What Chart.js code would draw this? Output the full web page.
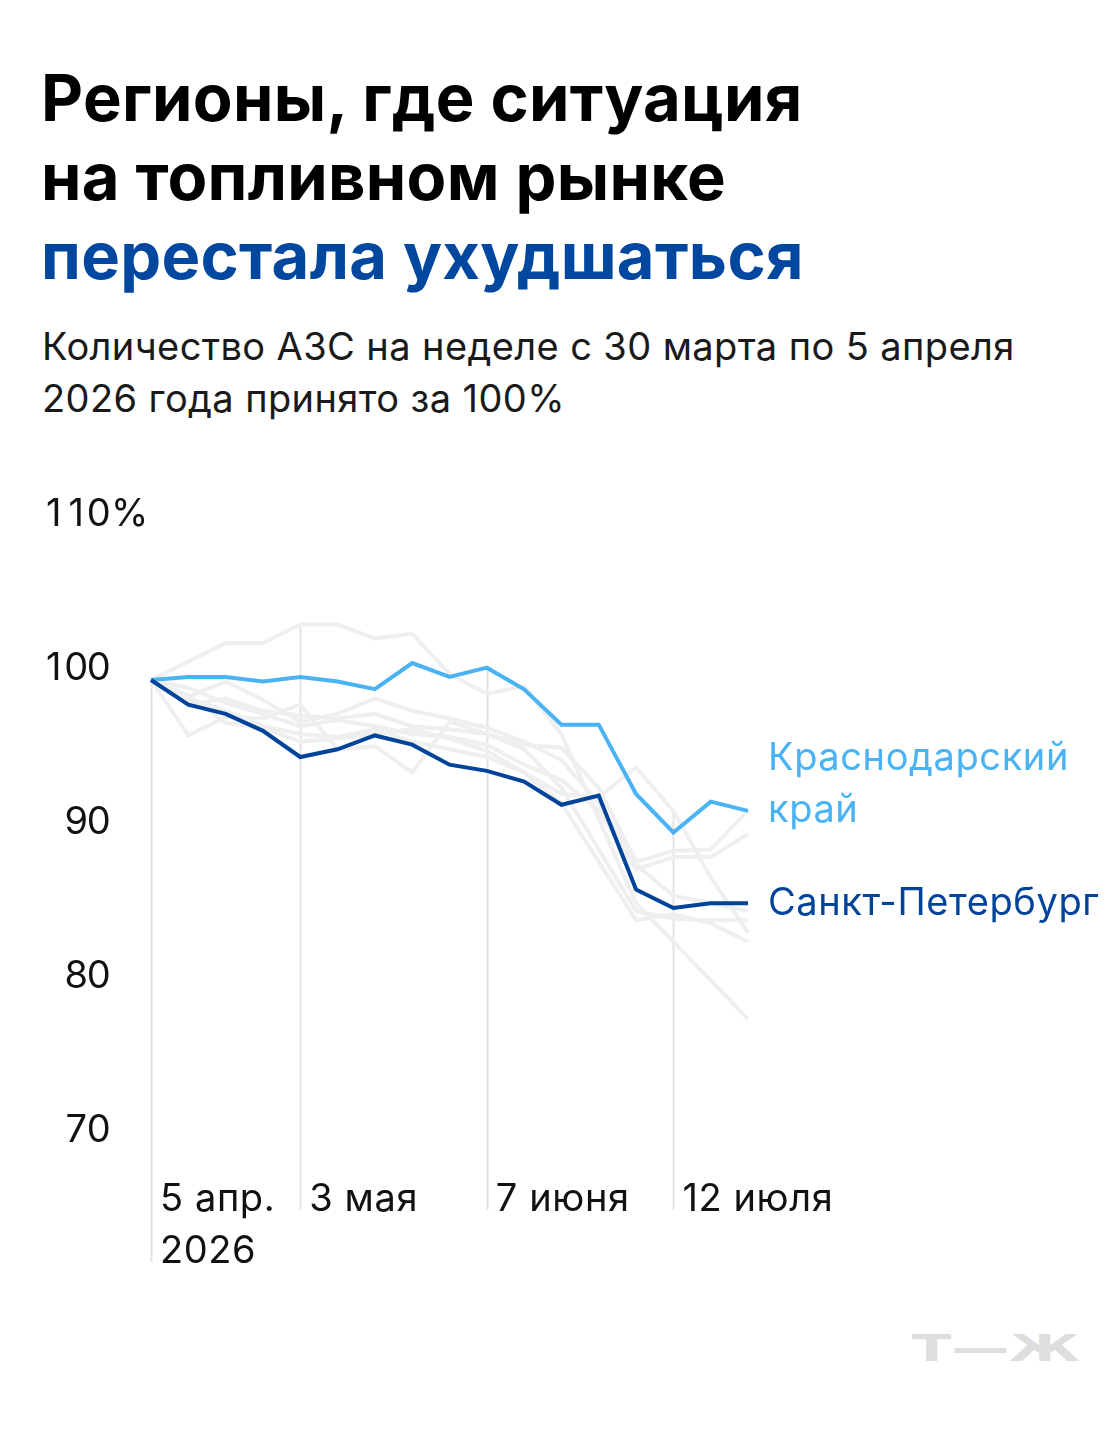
<!DOCTYPE html>
<html lang="ru">
<head>
<meta charset="utf-8">
<script src="https://cdn.jsdelivr.net/npm/chart.js@4.4.1/dist/chart.umd.min.js"></script>
<style>
  html, body { margin: 0; padding: 0; background: #fff; }
  body { width: 1120px; height: 1444px; position: relative; overflow: hidden; font-family: Inter, "Noto Sans", sans-serif; }
  .title { position: absolute; left: 41px; top: 58px; font-size: 65px; line-height: 79px; font-weight: 700; color: #000; letter-spacing: 0.3px; }
  .title .accent { color: #0047a0; }
  .subtitle { position: absolute; left: 42px; top: 320px; font-size: 38px; line-height: 52px; color: #1a1a1a; letter-spacing: 0.4px; }
  #wrap { position: absolute; left: 0; top: 440px; width: 1120px; height: 860px; }
  .logo { position: absolute; left: 912px; top: 1326px; font-family: "DejaVu Sans", sans-serif; font-weight: 700; font-size: 38px; color: #dedede; transform: scaleX(1.52); transform-origin: left top; }
</style>
</head>
<body>
<div class="title">Регионы, где ситуация<br>на топливном рынке<br><span class="accent">перестала ухудшаться</span></div>
<div class="subtitle">Количество АЗС на неделе с 30 марта по 5 апреля<br>2026 года принято за 100%</div>
<div id="wrap"><canvas id="myChart"></canvas></div>
<div class="logo">Т—Ж</div>
<script>
// weeks, starting with the week ending 5 April 2026
const weeks = ['5 апр.', '12 апр.', '19 апр.', '26 апр.', '3 мая', '10 мая', '17 мая', '24 мая', '31 мая',
  '7 июня', '14 июня', '21 июня', '28 июня', '5 июля', '12 июля', '19 июля', '26 июля'];

// which weeks get a label under the axis
const tickIndex = [0, 4, 9, 14];
const tickText = [['5 апр.', '2026'], ['3 мая'], ['7 июня'], ['12 июля']];

const yTicks = [70, 80, 90, 100, 110];

// highlighted regions, % of the base week
const krasnodar = [100, 100.2, 100.2, 99.9, 100.2, 99.9, 99.4, 101.1, 100.2, 100.8, 99.4, 97.1, 97.1, 92.6, 90.1, 92.1, 91.5];
const spb = [100, 98.4, 97.8, 96.7, 95.0, 95.5, 96.4, 95.8, 94.5, 94.1, 93.4, 91.9, 92.5, 86.4, 85.2, 85.5, 85.5];

// other regions (grey background lines)
const otherA = [100, 101.2, 102.4, 102.4, 103.6, 103.6, 102.7, 103.0, 100.4, 99.1, 99.6, 96.5, 91.0, 85.5, 83.0, 80.5, 78.0];
const otherB = [100, 96.4, 97.6, 97.5, 98.4, 95.5, 95.7, 94.0, 97.3, 96.5, 95.5, 93.0, 89.0, 85.0, 84.5, 84.4, 84.4];
const otherC = [100, 98.8, 98.0, 97.0, 96.5, 96.3, 96.8, 96.0, 95.5, 95.0, 94.0, 92.6, 92.4, 94.3, 91.5, 87.2, 83.6];
const otherD = [100, 99.5, 98.5, 97.8, 97.0, 97.4, 97.0, 96.5, 96.3, 95.8, 94.5, 93.5, 91.5, 87.7, 88.5, 88.5, 90.0];
const otherE = [100, 98.4, 98.8, 98.0, 97.7, 97.5, 97.8, 97.0, 96.8, 96.5, 95.8, 95.6, 93.0, 88.2, 88.9, 89.0, 91.5];
const otherF = [100, 98.9, 99.9, 98.7, 97.3, 97.8, 98.8, 98.0, 97.5, 96.9, 96.0, 94.8, 92.0, 88.0, 86.0, 85.5, 85.0];
const otherG = [100, 99.0, 97.2, 96.9, 96.0, 96.2, 96.5, 96.8, 96.2, 95.4, 94.0, 92.0, 88.2, 84.4, 84.8, 84.2, 83.0];
const others = [otherA, otherB, otherC, otherD, otherE, otherF, otherG];

const COLORS = { spb: '#00439a', krasnodar: '#4ab3f4', other: '#efefef', grid: '#e3e3e3', text: '#111' };
const FONT = '38px Inter, "Noto Sans", sans-serif';
const LINE_H = 52;
const DIGIT_W = 22.5; // digits on the y axis are tabular

// draw a number right-aligned at x with every digit in a fixed-width cell
function drawTabular(ctx, str, right, py) {
  ctx.textAlign = 'center';
  for (let i = 0; i < str.length; i++) {
    const cx = right - (str.length - i - 0.5) * DIGIT_W;
    ctx.fillText(str[i], cx, py);
  }
}

const overlay = {
  id: 'overlay',
  beforeDatasetsDraw(chart) {
    const ctx = chart.ctx, x = chart.scales.x, y = chart.scales.y;
    const base = chart.chartArea.bottom + 68;
    ctx.save();
    ctx.strokeStyle = COLORS.grid;
    ctx.lineWidth = 2;
    tickIndex.forEach((idx, k) => {
      const top = Math.max(...chart.data.datasets.map(d => d.data[idx]));
      const px = Math.round(x.getPixelForValue(idx)) + 0.5;
      ctx.beginPath();
      ctx.moveTo(px, y.getPixelForValue(top));
      ctx.lineTo(px, base + (tickText[k].length - 1) * LINE_H);
      ctx.stroke();
    });
    ctx.restore();
  },
  afterDatasetsDraw(chart) {
    const ctx = chart.ctx, x = chart.scales.x, y = chart.scales.y;
    ctx.save();
    ctx.font = FONT;
    ctx.fillStyle = COLORS.text;
    ctx.textBaseline = 'alphabetic';

    // y labels sit on top of their value
    yTicks.forEach(v => {
      const py = y.getPixelForValue(v);
      drawTabular(ctx, String(v), 110, py);
      if (v === yTicks[yTicks.length - 1]) {
        ctx.textAlign = 'left';
        ctx.fillText('%', 111, py);
      }
    });

    ctx.letterSpacing = '0.6px';

    // x labels
    const base = chart.chartArea.bottom + 69;
    ctx.textAlign = 'left';
    tickIndex.forEach((idx, k) => {
      const px = x.getPixelForValue(idx) + 9;
      tickText[k].forEach((t, j) => ctx.fillText(t, px, base + j * LINE_H));
    });

    // labels at the end of the highlighted lines
    const last = weeks.length - 1;
    const lx = x.getPixelForValue(last) + 20;
    ctx.textBaseline = 'middle';
    ctx.fillStyle = COLORS.krasnodar;
    const ky = y.getPixelForValue(krasnodar[last]);
    ctx.fillText('Краснодарский', lx, ky - LINE_H);
    ctx.fillText('край', lx, ky);
    ctx.fillStyle = COLORS.spb;
    ctx.fillText('Санкт-Петербург', lx, y.getPixelForValue(spb[last]));
    ctx.restore();
  }
};

const datasets = [
  { data: spb, borderColor: COLORS.spb },
  { data: krasnodar, borderColor: COLORS.krasnodar }
].concat(others.map(d => ({ data: d, borderColor: COLORS.other })));

const config = {
  type: 'line',
  data: {
    labels: weeks,
    datasets: datasets.map(d => Object.assign({
      borderWidth: 4,
      pointRadius: 0,
      pointHoverRadius: 0,
      tension: 0,
      fill: false
    }, d))
  },
  options: {
    responsive: true,
    maintainAspectRatio: false,
    animation: false,
    events: [],
    layout: { padding: { left: 151, right: 372, top: 86, bottom: 158 } },
    scales: {
      x: { type: 'category', display: false, offset: false },
      y: { display: false, min: 70, max: 110 }
    },
    plugins: {
      legend: { display: false },
      tooltip: { enabled: false }
    }
  },
  plugins: [overlay]
};

var ctx = document.getElementById('myChart').getContext('2d');
var myChart = new Chart(ctx, config);
</script>
</body>
</html>
